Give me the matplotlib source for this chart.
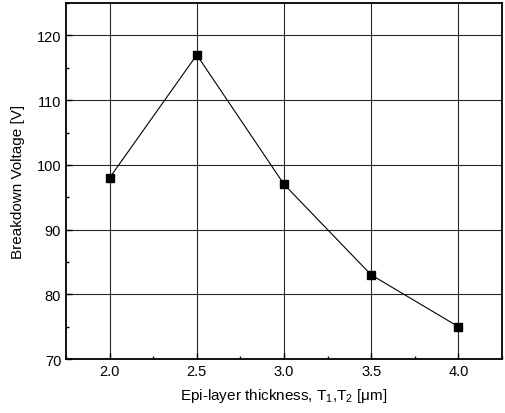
import matplotlib
matplotlib.use("Agg")
import matplotlib.pyplot as plt
from matplotlib.ticker import MultipleLocator

plt.rcParams['font.family'] = ['Liberation Sans', 'DejaVu Sans']
plt.rcParams['mathtext.fontset'] = 'custom'
plt.rcParams['mathtext.rm'] = 'Liberation Sans'
plt.rcParams['mathtext.it'] = 'Liberation Sans'

thickness = [2.0, 2.5, 3.0, 3.5, 4.0]
breakdown = [98, 117, 97, 83, 75]

fig = plt.figure(figsize=(5.05, 4.14), dpi=100)
ax = fig.add_axes([0.1307, 0.1304, 0.8633, 0.8596])

ax.plot(thickness, breakdown, color='black', lw=0.8, marker='s', ms=6,
        markerfacecolor='black', markeredgecolor='black', zorder=3)

ax.set_xlim(1.75, 4.25)
ax.set_ylim(70, 125)
ax.xaxis.set_major_locator(MultipleLocator(0.5))
ax.xaxis.set_minor_locator(MultipleLocator(0.25))
ax.yaxis.set_major_locator(MultipleLocator(10))
ax.yaxis.set_minor_locator(MultipleLocator(5))
ax.xaxis.set_major_formatter(matplotlib.ticker.FormatStrFormatter('%.1f'))

ax.grid(True, which='major', color='0.15', lw=0.8)
ax.tick_params(which='both', direction='in', top=False, right=False, labelsize=10.5)
ax.tick_params(which='major', length=4, width=1)
ax.tick_params(which='minor', length=2.5, width=1)
for s in ax.spines.values():
    s.set_linewidth(1.3)

ax.set_xlabel('Epi-layer thickness, T$_1$,T$_2$ [\u03bcm]', fontsize=11, labelpad=6)
ax.set_ylabel('Breakdown Voltage [V]', fontsize=11, labelpad=8)

fig.savefig('out.png', dpi=100)
